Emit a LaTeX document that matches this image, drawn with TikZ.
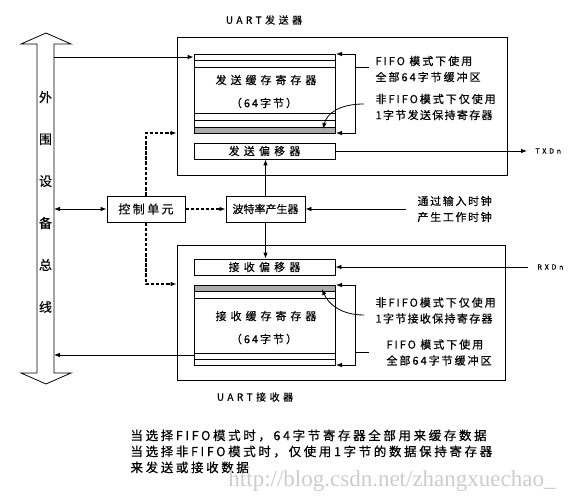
\documentclass[tikz,border=0pt]{standalone}
\usepackage{fontspec}
\setmainfont{Noto Sans CJK SC}[FakeBold=0.5]
\newfontfamily\wmfont{Liberation Serif}
\usetikzlibrary{arrows.meta}
\newcommand{\LS}[2]{{\addfontfeatures{LetterSpace=#1}#2}}
\tikzset{
  box/.style={draw, line width=0.8pt, inner sep=0pt},
  arr/.style={-{Latex[length=6pt,width=4.5pt]}, line width=0.8pt},
  darr/.style={{Latex[length=6pt,width=4.5pt]}-{Latex[length=6pt,width=4.5pt]}, line width=0.8pt},
  dsh/.style={dash pattern=on 3.5pt off 1.6pt, line width=1.5pt},
  thin/.style={line width=0.8pt},
  f11/.style={font=\fontsize{11}{16}\selectfont},
}
\begin{document}
\begin{tikzpicture}[x=1pt,y=-1pt]
\useasboundingbox (0,0) rectangle (573,500);
% bus
\draw[thin] (37,44) -- (21,44) -- (46,33) -- (71,44) -- (54,44) -- (54,373) -- (71,373) -- (46,384) -- (21,373) -- (37,373) -- cycle;
\node[align=center, font=\fontsize{13}{42}\selectfont] (bustext) at (45.5,202) {外\\围\\设\\备\\总\\线};
\coordinate (b1) at (54,57);
\coordinate (b2) at (54,209);
\coordinate (b3) at (54,355);

% transmitter
\node[font=\fontsize{10}{12}\selectfont] (txlabel) at (264,20) {\LS{35}{UART发送器}};
\node[box, minimum width=330, minimum height=138] (tx) at (342,106) {};
\node[box, minimum width=141, minimum height=79] (txbuf) at (264.5,93.5) {};
\draw[thin] (194,60) -- (335,60);
\draw[thin] (194,67) -- (335,67);
\draw[thin] (194,113) -- (335,113);
\draw[thin] (194,120) -- (335,120);
\fill[gray!65] (194,127) rectangle (335,133);
\draw[thin] (194,127) -- (335,127);
\draw[thin] (194,54) rectangle (335,133);
\node[f11] (txbt) at (266,80) {\LS{36}{发送缓存寄存器}};
\node[f11] (txbn) at (264,103) {\LS{18}{（64字节）}};
\node[box, f11, minimum width=141, minimum height=16] (txsh) at (264.5,151) {\LS{38}{发送偏移器}};

% control & baud
\node[box, minimum width=78, minimum height=26, font=\fontsize{12}{14}\selectfont] (ctrl) at (146,209) {\LS{20}{控制单元}};
\node[box, minimum width=79, minimum height=26, f11] (baud) at (265.5,209) {波特率产生器};
\node[f11, align=left, anchor=west] (clk) at (414,209) {\LS{15}{通过输入时钟}\\\LS{15}{产生工作时钟}};
\coordinate (clkin) at (406,209);

% receiver
\node[box, minimum width=328, minimum height=135] (rx) at (341,312.5) {};
\node[box, f11, minimum width=141, minimum height=16] (rxsh) at (264.5,267) {\LS{38}{接收偏移器}};
\node[box, minimum width=141, minimum height=80] (rxbuf) at (264.5,325) {};
\fill[gray!65] (194,285) rectangle (335,291);
\draw[thin] (194,285) rectangle (335,365);
\draw[thin] (194,291) -- (335,291);
\draw[thin] (194,298) -- (335,298);
\draw[thin] (194,353) -- (335,353);
\draw[thin] (194,359) -- (335,359);
\node[f11] (rxbt) at (266,316) {\LS{36}{接收缓存寄存器}};
\node[f11] (rxbn) at (264,339) {\LS{18}{（64字节）}};
\node[font=\fontsize{10}{12}\selectfont] (rxlabel) at (255,397) {\LS{35}{UART接收器}};

% TXD / RXD
\node[font=\fontsize{7}{8}\selectfont, anchor=west] (txd) at (532,151) {\LS{40}{TXDn}};
\node[font=\fontsize{7}{8}\selectfont, anchor=west] (rxd) at (534,267) {\LS{40}{RXDn}};
\coordinate (txdend) at (527,151);
\coordinate (rxdstart) at (528,267);

% annotations TX
\node[f11, align=left, anchor=west] (txfifo) at (372,69) {\LS{18}{FIFO 模式下使用}\\\LS{18}{全部64字节缓冲区}};
\node[f11, align=left, anchor=west] (txnf) at (372,107) {\LS{18}{非FIFO模式下仅使用}\\\LS{12}{1字节发送保持寄存器}};
% annotations RX
\node[f11, align=left, anchor=west] (rxnf) at (372,310.5) {\LS{18}{非FIFO模式下仅使用}\\\LS{12}{1字节接收保持寄存器}};
\node[f11, align=left, anchor=west] (rxfifo) at (383,352.5) {\LS{18}{FIFO 模式下使用}\\\LS{18}{全部64字节缓冲区}};

% bottom text
\node[font=\fontsize{12.5}{16}\selectfont, align=left, anchor=north west] (note) at (127,426) {\LS{21}{当选择FIFO模式时，64字节寄存器全部用来缓存数据}\\\LS{21}{当选择非FIFO模式时，仅使用1字节的数据保持寄存器}\\\LS{21}{来发送或接收数据}};
\node[font=\wmfont\fontsize{23}{24}\selectfont, text=gray!40] (wm) at (392,481) {http://blog.csdn.net/zhangxuechao\_};

% connectors
\draw[arr] (b1) -- (b1 -| txbuf.west);
\draw[darr] (b2) -- (ctrl.west);
\draw[arr] (rxbuf.west |- b3) -- (b3);
\draw[dsh, -{Latex[length=6pt,width=4.5pt]}] (ctrl.north) |- (tx.west |- 0,133);
\draw[dsh, -{Latex[length=6pt,width=4.5pt]}] (ctrl.south) |- (rx.west |- 0,284);
\draw[dsh, -{Latex[length=6pt,width=4.5pt]}] (ctrl.east) -- (baud.west);
\draw[arr] (baud.north) -- (baud.north |- txsh.south);
\draw[arr] (baud.south) -- (baud.south |- rxsh.north);
\draw[arr] (clkin) -- (baud.east);
\draw[arr] (txsh.east) -- (txdend);
\draw[arr] (rxdstart) -- (rxsh.east);

% brackets
\draw[darr] (336,54) -- (355,54) -- (355,133) -- (336,133);
\draw[thin] (355,67) -- (369,67);
\draw[darr] (336,285) -- (355,285) -- (355,365) -- (336,365);
\draw[thin] (355,352) -- (369,352);
% curved pointers
\coordinate (c1) at (364,104);
\coordinate (c2) at (364,315);
\draw[arr] (c1) .. controls (340,104) and (327,113) .. (323,129);
\draw[arr] (c2) .. controls (340,315) and (328,303) .. (322,289);
\end{tikzpicture}
\end{document}
